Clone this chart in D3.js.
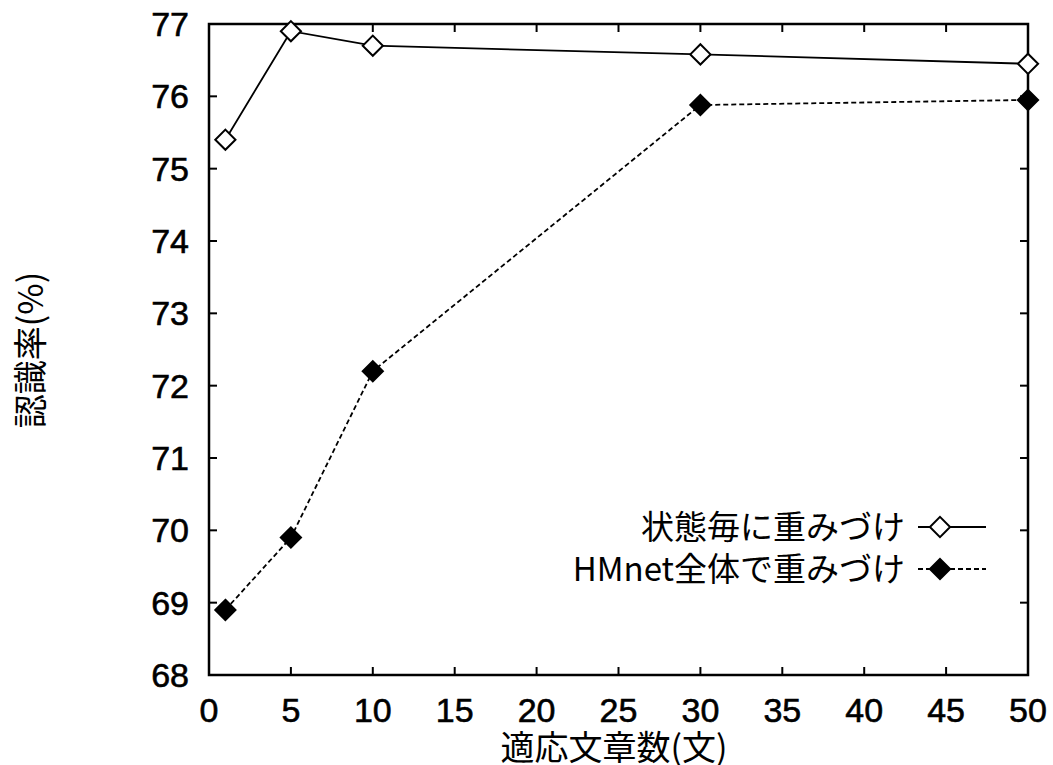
<!DOCTYPE html>
<html lang="ja">
<head>
<meta charset="UTF-8">
<title>認識率</title>
<script src="https://d3js.org/d3.v7.min.js"></script>
<style>
    body { margin: 0; background: #fff; }
    .tick-label { font-family: "Liberation Sans", Arial, sans-serif; font-size: 34px; fill: #000; stroke: #000; stroke-width: 0.6px; }
    .jp { font-family: "Noto Sans CJK JP", sans-serif; fill: #000; }
</style>
</head>
<body>
<svg width="1053" height="765"></svg>
<script>
const xs = [1, 5, 10, 30, 50];
const perState = [75.4, 76.9, 76.7, 76.58, 76.45];
const wholeNet = [68.9, 69.9, 72.2, 75.88, 75.95];
const xTicks = [0, 5, 10, 15, 20, 25, 30, 35, 40, 45, 50];
const yTicks = [68, 69, 70, 71, 72, 73, 74, 75, 76, 77];
const seriesNames = ["状態毎に重みづけ", "HMnet全体で重みづけ"];

const svg = d3.select("svg");
const pLeft = 209, pRight = 1028, pTop = 24, pBottom = 675;

const x = d3.scaleLinear().domain([0, 50]).range([pLeft, pRight]);
const y = d3.scaleLinear().domain([68, 77]).range([pBottom, pTop]);

// frame
svg.append("rect")
    .attr("x", pLeft).attr("y", pTop)
    .attr("width", pRight - pLeft).attr("height", pBottom - pTop)
    .attr("fill", "none").attr("stroke", "#000").attr("stroke-width", 2.5);

const tl = 8;
// ticks on all four sides, pointing inward
xTicks.forEach(t => {
    svg.append("line").attr("x1", x(t)).attr("x2", x(t)).attr("y1", pBottom).attr("y2", pBottom - tl)
        .attr("stroke", "#000").attr("stroke-width", 2);
    svg.append("line").attr("x1", x(t)).attr("x2", x(t)).attr("y1", pTop).attr("y2", pTop + tl)
        .attr("stroke", "#000").attr("stroke-width", 2);
    svg.append("text").attr("class", "tick-label")
        .attr("x", x(t)).attr("y", 722).attr("text-anchor", "middle").text(t);
});
yTicks.forEach(t => {
    svg.append("line").attr("x1", pLeft).attr("x2", pLeft + tl).attr("y1", y(t)).attr("y2", y(t))
        .attr("stroke", "#000").attr("stroke-width", 2);
    svg.append("line").attr("x1", pRight).attr("x2", pRight - tl).attr("y1", y(t)).attr("y2", y(t))
        .attr("stroke", "#000").attr("stroke-width", 2);
    svg.append("text").attr("class", "tick-label")
        .attr("x", 189).attr("y", y(t) + 12).attr("text-anchor", "end").text(t);
});

// axis titles
svg.append("text").attr("class", "jp")
    .attr("x", 614).attr("y", 760).attr("text-anchor", "middle")
    .attr("font-size", 34).text("適応文章数(文)");
svg.append("text").attr("class", "jp")
    .attr("transform", "translate(43,350) rotate(-90)")
    .attr("text-anchor", "middle").attr("font-size", 34).text("認識率(%)");

const line = d3.line().x((d, i) => x(xs[i])).y(d => y(d));
const diamond = d3.symbol().type(d3.symbolDiamond2).size(260);

function drawSeries(vals, dash, fill) {
    svg.append("path").datum(vals)
        .attr("d", line).attr("fill", "none").attr("stroke", "#000")
        .attr("stroke-width", 1.8).attr("stroke-dasharray", dash);
    svg.selectAll(null).data(vals).enter().append("path")
        .attr("d", diamond)
        .attr("transform", (d, i) => "translate(" + x(xs[i]) + "," + y(d) + ")")
        .attr("fill", fill).attr("stroke", "#000").attr("stroke-width", 2);
}
drawSeries(perState, null, "#fff");
drawSeries(wholeNet, "5,3", "#000");

// legend
const legRows = [
    { name: seriesNames[0], dash: null, fill: "#fff", y: 527 },
    { name: seriesNames[1], dash: "5,3", fill: "#000", y: 569 }
];
legRows.forEach(r => {
    svg.append("text").attr("class", "jp")
        .attr("x", 905).attr("y", r.y + 12).attr("text-anchor", "end")
        .attr("font-size", 33).text(r.name);
    svg.append("line").attr("x1", 918).attr("x2", 986).attr("y1", r.y).attr("y2", r.y)
        .attr("stroke", "#000").attr("stroke-width", 1.8).attr("stroke-dasharray", r.dash);
    svg.append("path").attr("d", diamond)
        .attr("transform", "translate(940," + r.y + ")")
        .attr("fill", r.fill).attr("stroke", "#000").attr("stroke-width", 2);
});
</script>
</body>
</html>
